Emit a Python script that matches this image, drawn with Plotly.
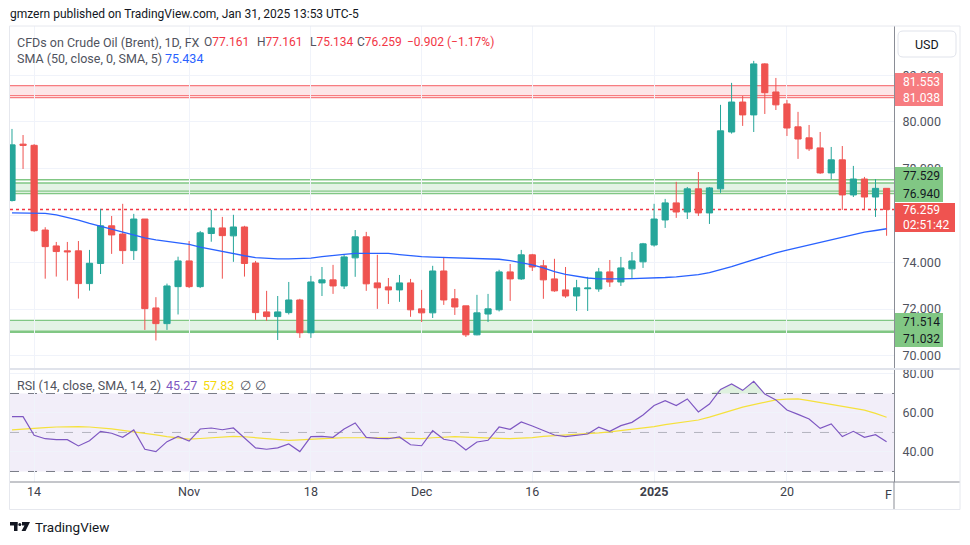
import plotly.graph_objects as go

# ---------------- data ----------------
dates = ["2024-10-10","2024-10-11","2024-10-14","2024-10-15","2024-10-16","2024-10-17","2024-10-18",
         "2024-10-21","2024-10-22","2024-10-23","2024-10-24","2024-10-25",
         "2024-10-28","2024-10-29","2024-10-30","2024-10-31","2024-11-01",
         "2024-11-04","2024-11-05","2024-11-06","2024-11-07","2024-11-08",
         "2024-11-11","2024-11-12","2024-11-13","2024-11-14","2024-11-15",
         "2024-11-18","2024-11-19","2024-11-20","2024-11-21","2024-11-22",
         "2024-11-25","2024-11-26","2024-11-27","2024-11-28","2024-11-29",
         "2024-12-02","2024-12-03","2024-12-04","2024-12-05","2024-12-06",
         "2024-12-09","2024-12-10","2024-12-11","2024-12-12","2024-12-13",
         "2024-12-16","2024-12-17","2024-12-18","2024-12-19","2024-12-20",
         "2024-12-23","2024-12-24","2024-12-26","2024-12-27","2024-12-30","2024-12-31",
         "2025-01-02","2025-01-03","2025-01-06","2025-01-07","2025-01-08","2025-01-09","2025-01-10",
         "2025-01-13","2025-01-14","2025-01-15","2025-01-16","2025-01-17",
         "2025-01-20","2025-01-21","2025-01-22","2025-01-23","2025-01-24",
         "2025-01-27","2025-01-28","2025-01-29","2025-01-30","2025-01-31"]

opens = [76.64,79.05,79.00,75.38,74.70,74.49,74.49,73.09,73.95,75.56,75.21,74.50,
         75.85,72.05,71.38,72.96,74.06,72.96,75.23,75.47,75.13,75.51,
         73.97,71.88,71.68,71.85,72.39,70.99,73.12,73.25,72.99,74.19,
         75.09,73.12,72.95,72.82,73.12,72.01,71.84,73.63,72.44,72.14,
         70.90,71.79,71.97,73.59,73.29,74.32,73.85,73.29,72.82,72.56,
         72.87,72.86,73.59,73.16,73.72,74.02,74.74,75.81,76.54,76.15,77.14,76.11,77.14,
         79.57,80.85,80.30,82.48,81.28,80.77,79.79,79.32,78.89,77.82,
         78.38,76.88,77.56,76.79,77.161]
highs = [79.70,79.44,79.05,75.50,74.87,74.87,74.91,74.53,76.28,75.98,76.50,76.07,
         75.85,72.51,73.09,74.24,74.91,75.34,76.24,75.94,76.03,75.56,
         74.06,72.78,72.56,73.16,72.44,73.42,73.80,73.89,74.32,75.38,
         75.30,74.32,73.33,73.46,73.29,72.82,73.85,74.23,72.86,72.14,
         72.61,72.65,73.68,73.93,74.53,74.36,74.10,74.15,73.80,73.25,
         73.38,73.76,74.10,74.23,74.44,74.83,76.50,76.71,77.44,77.22,77.86,77.22,80.73,
         81.67,81.11,82.61,82.51,81.88,80.94,80.43,79.87,79.57,78.93,
         78.97,78.12,77.65,77.56,77.161]
lows = [76.60,77.99,75.30,73.30,73.39,73.22,72.45,72.79,73.50,74.36,73.93,74.10,
        71.11,70.66,71.11,71.77,72.90,72.90,74.88,73.30,74.02,73.39,
        71.54,71.50,70.68,71.77,70.77,70.77,72.56,72.65,72.86,73.38,
        72.78,72.01,72.22,72.31,71.67,71.45,71.62,72.18,71.75,70.81,
        70.88,71.45,71.90,72.35,73.25,73.63,72.44,72.74,72.48,71.92,
        71.92,72.74,72.95,72.99,73.33,73.76,74.67,75.47,75.90,75.85,75.98,75.64,76.97,
        79.50,79.83,79.57,80.34,80.51,79.40,78.42,78.76,77.78,77.56,
        76.24,76.79,76.24,75.94,75.134]
closes = [79.02,79.00,75.35,74.67,74.46,74.45,73.09,73.96,75.56,75.17,74.50,75.85,
          72.02,71.38,72.99,74.06,72.96,75.26,75.47,75.14,75.51,73.95,
          71.85,71.68,71.88,72.39,70.99,73.16,73.25,72.99,74.23,75.09,
          73.08,72.91,72.82,73.12,71.97,71.84,73.63,72.39,72.09,70.90,
          71.84,72.01,73.59,73.29,74.32,73.80,73.25,72.78,72.56,72.91,
          72.90,73.59,73.16,73.76,74.06,74.79,75.85,76.54,76.15,77.14,76.11,77.18,79.62,
          80.85,80.30,82.48,81.25,80.73,79.74,79.27,78.85,77.82,78.38,
          76.88,77.56,76.79,77.161,76.259]
sma50 = [76.11,76.11,76.11,76.09,76.03,75.93,75.80,75.66,75.54,75.42,75.30,75.16,
         75.04,74.96,74.90,74.85,74.77,74.65,74.55,74.45,74.36,74.28,
         74.20,74.17,74.15,74.15,74.16,74.18,74.24,74.30,74.34,74.38,
         74.39,74.39,74.38,74.33,74.28,74.24,74.22,74.21,74.20,74.19,
         74.17,74.15,74.13,74.07,73.98,73.89,73.76,73.60,73.48,73.39,
         73.33,73.29,73.28,73.29,73.30,73.31,73.33,73.35,73.38,73.41,73.47,73.56,73.68,
         73.82,73.97,74.12,74.27,74.40,74.52,74.63,74.75,74.87,74.98,
         75.09,75.20,75.29,75.36,75.434]
rsi = [58.1,58.1,48.6,46.8,46.3,46.3,43.1,45.8,50.6,49.6,47.5,51.3,
       41.4,40.2,45.3,48.0,45.6,51.8,52.3,51.4,52.3,47.0,
       42.1,41.4,42.1,44.1,40.2,47.9,48.0,47.5,51.8,54.9,
       47.5,47.0,46.8,47.7,43.7,43.2,50.9,46.5,45.5,41.0,
       45.1,46.0,52.8,51.6,55.4,53.3,50.9,48.7,47.9,48.7,
       49.2,52.7,50.6,53.5,55.2,59.0,63.8,66.3,63.8,67.2,60.5,64.6,72.1,
       74.9,71.6,76.2,69.7,66.7,61.5,59.3,56.9,52.1,54.4,
       47.9,50.6,47.5,48.9,45.27]
rsi_ma = [51.3,51.8,52.2,52.5,52.8,53.0,53.0,52.8,52.4,51.8,51.1,50.4,
          49.6,48.8,47.9,47.2,46.6,46.9,47.3,47.7,48.0,47.8,
          47.4,46.9,46.4,46.0,46.2,46.6,46.9,47.1,47.3,47.4,
          47.4,47.3,47.2,47.0,46.9,46.8,47.3,47.7,47.9,47.6,
          47.3,47.1,47.0,46.8,47.0,47.4,48.0,48.3,48.6,48.9,
          49.3,49.8,50.3,50.9,51.6,52.3,53.0,54.0,54.8,55.6,56.4,57.9,59.6,
          61.5,63.0,64.3,65.6,66.7,67.1,67.2,66.3,65.3,64.2,
          63.2,62.4,61.5,59.8,57.83]

tick_dates = ["2024-10-14","2024-11-01","2024-11-18","2024-12-02","2024-12-16","2025-01-02","2025-01-20"]
tick_text = ["14","Nov","18","Dec","16","<b>2025</b>","20"]
price_ticks = [70, 72, 74, 76, 78, 80, 82]
price_tick_text = ["70.000", "72.000", "74.000", "", "78.000", "80.000", "82.000"]  # 76.000 sits under the price tag
rsi_ticks = [40, 60, 80]

red_zone = [81.553, 81.12, 81.038]
green_zone_hi = [77.529, 77.39, 77.04, 76.940]
green_zone_lo = [71.514, 71.032]
last_price = 76.259
sma_last = 75.434

# ---------------- geometry helpers (pixel -> paper) ----------------
W, H = 970, 545
L, R, T, B = 10, 76, 26, 63
PW, PH = W - L - R, H - T - B


def px(x):
    return (x - L) / PW


def py(y):
    return (H - B - y) / PH


split = (482 - 369) / PH

FONT = "Roboto"
GREY = "#50535e"
UP, DN = "#26a69a", "#ef5350"

fig = go.Figure()

fig.add_trace(go.Candlestick(
    x=dates, open=opens, high=highs, low=lows, close=closes,
    increasing=dict(line=dict(color=UP, width=1), fillcolor=UP),
    decreasing=dict(line=dict(color=DN, width=1), fillcolor=DN),
    whiskerwidth=0, xaxis="x", yaxis="y", hoverinfo="skip", showlegend=False))

fig.add_trace(go.Scatter(x=dates, y=sma50, mode="lines", line=dict(color="#2962ff", width=1.3),
                         xaxis="x", yaxis="y", hoverinfo="skip", showlegend=False))

# RSI overbought fill
fig.add_trace(go.Scatter(x=dates, y=[70] * len(dates), mode="lines", line=dict(width=0),
                         xaxis="x2", yaxis="y2", hoverinfo="skip", showlegend=False))
fig.add_trace(go.Scatter(x=dates, y=[max(v, 70) for v in rsi], mode="lines", line=dict(width=0),
                         fill="tonexty", fillcolor="rgba(76,175,80,0.18)",
                         xaxis="x2", yaxis="y2", hoverinfo="skip", showlegend=False))
fig.add_trace(go.Scatter(x=dates, y=rsi_ma, mode="lines", line=dict(color="#f5e13c", width=1.2),
                         xaxis="x2", yaxis="y2", hoverinfo="skip", showlegend=False))
fig.add_trace(go.Scatter(x=dates, y=rsi, mode="lines", line=dict(color="#7e57c2", width=1.2),
                         xaxis="x2", yaxis="y2", hoverinfo="skip", showlegend=False))

xr = [-0.18, 79.67]
grid = "#f0f3fa"
axis_line = "#8a8d96"

fig.update_layout(
    width=W, height=H, autosize=False,
    margin=dict(l=L, r=R, t=T, b=B),
    paper_bgcolor="white", plot_bgcolor="white",
    font=dict(family=FONT, size=12, color=GREY),
    showlegend=False, hovermode=False,
    boxgap=0.2,
    xaxis=dict(type="category", range=xr, domain=[0, 1], anchor="y",
               tickvals=tick_dates, ticktext=tick_text, showticklabels=False,
               showgrid=True, gridcolor=grid, gridwidth=1, zeroline=False,
               rangeslider=dict(visible=False), ticks=""),
    xaxis2=dict(type="category", range=xr, domain=[0, 1], anchor="y2", matches="x",
                tickvals=tick_dates, ticktext=tick_text, showticklabels=True,
                tickfont=dict(size=12.5, color="#3d404a"),
                showgrid=True, gridcolor=grid, gridwidth=1, zeroline=False, ticks=""),
    yaxis=dict(domain=[split, 1], range=[69.44, 84.10], side="right", anchor="x",
               tickvals=price_ticks, ticktext=price_tick_text,
               showgrid=True, gridcolor=grid, zeroline=False, ticks="",
               showline=True, linecolor=axis_line, linewidth=1,
               ticklabelstandoff=5, tickfont=dict(size=12.5, color=GREY)),
    yaxis2=dict(domain=[0, split], range=[24.6, 82.56], side="right", anchor="x2",
                tickvals=rsi_ticks, ticktext=[f"{v:.2f}" for v in rsi_ticks],
                showgrid=True, gridcolor=grid, zeroline=False, ticks="",
                showline=True, linecolor=axis_line, linewidth=1,
                ticklabelstandoff=5, tickfont=dict(size=12.5, color=GREY)),
)

shapes = []
# zones (below traces)
shapes.append(dict(type="rect", xref="paper", yref="y", x0=0, x1=1, y0=red_zone[1], y1=red_zone[0],
                   fillcolor="rgba(242,54,69,0.13)", line=dict(width=0), layer="below"))
for v in red_zone:
    shapes.append(dict(type="line", xref="paper", yref="y", x0=0, x1=1, y0=v, y1=v,
                       line=dict(color="#f77c80", width=1.3), layer="below"))
shapes.append(dict(type="rect", xref="paper", yref="y", x0=0, x1=1, y0=green_zone_hi[2], y1=green_zone_hi[1],
                   fillcolor="rgba(76,175,80,0.15)", line=dict(width=0), layer="below"))
for v in green_zone_hi:
    shapes.append(dict(type="line", xref="paper", yref="y", x0=0, x1=1, y0=v, y1=v,
                       line=dict(color="#81c784", width=1.3), layer="below"))
shapes.append(dict(type="rect", xref="paper", yref="y", x0=0, x1=1, y0=green_zone_lo[1], y1=green_zone_lo[0],
                   fillcolor="rgba(76,175,80,0.15)", line=dict(width=0), layer="below"))
shapes.append(dict(type="line", xref="paper", yref="y", x0=0, x1=1, y0=green_zone_lo[0], y1=green_zone_lo[0],
                   line=dict(color="#81c784", width=1.3), layer="below"))
shapes.append(dict(type="line", xref="paper", yref="y", x0=0, x1=1, y0=green_zone_lo[1], y1=green_zone_lo[1],
                   line=dict(color="#81c784", width=2.5), layer="below"))
# last price dotted line
shapes.append(dict(type="line", xref="paper", yref="y", x0=0, x1=1, y0=last_price, y1=last_price,
                   line=dict(color="#f23645", width=1.4, dash="dot"), layer="below"))
# RSI band and levels
shapes.append(dict(type="rect", xref="paper", yref="y2", x0=0, x1=1, y0=30, y1=70,
                   fillcolor="rgba(126,87,194,0.1)", line=dict(width=0), layer="below"))
for v, c in [(70, "#787b86"), (30, "#787b86"), (50, "rgba(120,123,134,0.5)")]:
    shapes.append(dict(type="line", xref="paper", yref="y2", x0=0, x1=1, y0=v, y1=v,
                       line=dict(color=c, width=1, dash="dash"), layer="below"))
# pane separator, time-axis line, axis extension, frame
shapes.append(dict(type="line", xref="paper", yref="paper", x0=px(10), x1=px(960), y0=py(369), y1=py(369),
                   line=dict(color="#e0e3eb", width=2)))
shapes.append(dict(type="line", xref="paper", yref="paper", x0=px(10), x1=px(960), y0=py(482), y1=py(482),
                   line=dict(color=axis_line, width=1)))
shapes.append(dict(type="line", xref="paper", yref="paper", x0=px(894), x1=px(894), y0=py(482), y1=py(509),
                   line=dict(color=axis_line, width=1)))
shapes.append(dict(type="rect", xref="paper", yref="paper", x0=px(9.5), x1=px(960), y0=py(26), y1=py(509.5),
                   line=dict(color="#e6e8ee", width=1), fillcolor="rgba(0,0,0,0)"))


# price label boxes on the axis
def box(x0, x1, y0, y1, color):
    shapes.append(dict(type="rect", xref="paper", yref="paper", x0=px(x0), x1=px(x1), y0=py(y1), y1=py(y0),
                       fillcolor=color, line=dict(width=0), layer="above"))


box(895, 943, 73, 106, "#f77c80")
box(895, 943, 167, 202, "#81c784")
box(895, 955, 203, 232, "#ef5350")
box(895, 943, 313, 347, "#81c784")


# USD rounded box
def rounded(x0, y0, x1, y1, r):
    rx, ry = r / PW, r / PH
    a, b, c, d = px(x0), py(y1), px(x1), py(y0)
    return (f"M {a+rx},{b} L {c-rx},{b} Q {c},{b} {c},{b+ry} L {c},{d-ry} Q {c},{d} {c-rx},{d} "
            f"L {a+rx},{d} Q {a},{d} {a},{d-ry} L {a},{b+ry} Q {a},{b} {a+rx},{b} Z")


shapes.append(dict(type="path", xref="paper", yref="paper", path=rounded(898, 31, 956, 57, 5),
                   line=dict(color="#e0e3eb", width=1), fillcolor="white", layer="above"))

# TradingView logo (approximation)
shapes.append(dict(type="rect", xref="paper", yref="paper", x0=px(10), x1=px(17.5), y0=py(525.5), y1=py(522),
                   fillcolor="#131722", line=dict(width=0)))
shapes.append(dict(type="rect", xref="paper", yref="paper", x0=px(14), x1=px(17.5), y0=py(531), y1=py(522),
                   fillcolor="#131722", line=dict(width=0)))
shapes.append(dict(type="circle", xref="paper", yref="paper", x0=px(18.3), x1=px(21.3), y0=py(526), y1=py(523),
                   fillcolor="#131722", line=dict(width=0)))
shapes.append(dict(type="path", xref="paper", yref="paper",
                   path=f"M {px(22)},{py(522)} L {px(30)},{py(522)} L {px(25.5)},{py(531)} L {px(21.5)},{py(531)} L {px(24.5)},{py(525.5)} L {px(22)},{py(525.5)} Z",
                   fillcolor="#131722", line=dict(width=0)))
fig.update_layout(shapes=shapes)

ann = []


def text(x, y, s, size=12.5, color=GREY, xanchor="left", yanchor="middle"):
    ann.append(dict(xref="paper", yref="paper", x=px(x), y=py(y), text=s, showarrow=False,
                    xanchor=xanchor, yanchor=yanchor, font=dict(family=FONT, size=size, color=color),
                    borderpad=0))


RED = "#f23645"
text(9, 14, "gmzern published on TradingView.com, Jan 31, 2025 13:53 UTC-5", size=12, color="#131722")
text(16, 42, "CFDs on Crude Oil (Brent), 1D, FX")
text(203, 42, f"O<span style='color:{RED}'>{opens[-1]:.3f}</span>", size=12)
text(256, 42, f"H<span style='color:{RED}'>{highs[-1]:.3f}</span>", size=12)
text(309, 42, f"L<span style='color:{RED}'>{lows[-1]:.3f}</span>", size=12)
text(356, 42, f"C<span style='color:{RED}'>{closes[-1]:.3f}</span>", size=12)
chg = closes[-1] - closes[-2]
text(406, 42, f"<span style='color:{RED}'>−{abs(chg):.3f} (−{abs(chg) / closes[-2] * 100:.2f}%)</span>", size=12)
text(16, 59, "SMA (50, close, 0, SMA, 5)")
text(164, 59, f"{sma_last:.3f}", color="#2962ff")
text(16, 385, "RSI (14, close, SMA, 14, 2)")
text(165, 385, f"{rsi[-1]:.2f}", color="#7e57c2")
text(202, 385, f"{rsi_ma[-1]:.2f}", color="#f5d90a")
text(239, 385, "∅", color=GREY)
text(254, 385, "∅", color=GREY)

# axis price-tag texts
text(902, 81.5, f"{red_zone[0]:.3f}", size=12, color="white")
text(902, 98.5, f"{red_zone[2]:.3f}", size=12, color="white")
text(902, 176, f"{green_zone_hi[0]:.3f}", size=12, color="#131722")
text(902, 193.5, f"{green_zone_hi[3]:.3f}", size=12, color="#131722")
text(902, 209.5, f"{last_price:.3f}", size=12, color="white")
text(902, 225, "02:51:42", size=12, color="white")
text(902, 322, f"{green_zone_lo[0]:.3f}", size=12, color="#131722")
text(902, 338.5, f"{green_zone_lo[1]:.3f}", size=12, color="#131722")
text(927, 44, "USD", size=12.5, color="#131722", xanchor="center")
text(893, 494, "F", size=12.5, color="#3d404a", xanchor="right")
text(34, 527, "TradingView", size=13.5, color="#131722")

fig.update_layout(annotations=ann)

fig.write_html("out.html", config={"displayModeBar": False, "staticPlot": True},
               post_script="document.body.style.margin='0';document.body.style.padding='0';")
